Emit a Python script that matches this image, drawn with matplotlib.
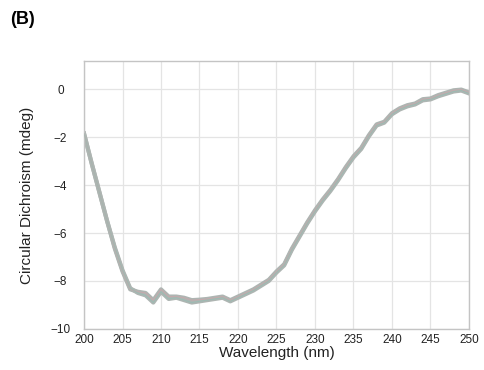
import matplotlib
matplotlib.use('Agg')
import matplotlib.pyplot as plt

plt.rcParams['font.family'] = ['Liberation Sans', 'DejaVu Sans']

# wavelength (nm) and CD signal (mdeg) for two overlaid replicates
wavelength = list(range(200, 251))
cd_rep1 = [-1.85, -3.1, -4.3, -5.5, -6.65, -7.6, -8.35, -8.45, -8.5, -8.8,
           -8.35, -8.65, -8.65, -8.7, -8.8, -8.78, -8.75, -8.7, -8.65, -8.8,
           -8.65, -8.5, -8.35, -8.15, -7.95, -7.6, -7.3, -6.65, -6.1, -5.55,
           -5.05, -4.6, -4.2, -3.75, -3.25, -2.8, -2.45, -1.92, -1.47, -1.36,
           -1.0, -0.8, -0.67, -0.6, -0.42, -0.39, -0.25, -0.15, -0.05, -0.02,
           -0.14]
cd_rep2 = [-1.85, -3.1, -4.3, -5.5, -6.6, -7.55, -8.3, -8.5, -8.6, -8.9,
           -8.45, -8.75, -8.7, -8.8, -8.9, -8.85, -8.8, -8.75, -8.7, -8.85,
           -8.7, -8.55, -8.4, -8.2, -8.0, -7.65, -7.35, -6.7, -6.15, -5.6,
           -5.1, -4.65, -4.25, -3.8, -3.3, -2.85, -2.5, -1.97, -1.52, -1.4,
           -1.05, -0.85, -0.72, -0.64, -0.47, -0.43, -0.3, -0.2, -0.1, -0.06,
           -0.18]

xticks = [200, 205, 210, 215, 220, 225, 230, 235, 240, 245, 250]
yticks = [0, -2, -4, -6, -8, -10]

fig = plt.figure(figsize=(4.85, 3.7), dpi=100)
ax = fig.add_axes([0.1732, 0.111, 0.7938, 0.724])

# grey band with the faint coloured replicate traces on top
ax.plot(wavelength, cd_rep1, color='#aeb5b2', lw=3.0, zorder=2)
ax.plot(wavelength, cd_rep2, color='#aeb5b2', lw=3.0, zorder=2)
ax.plot(wavelength, cd_rep1, color='#d4a2a8', lw=0.7, alpha=0.6, zorder=3)
ax.plot(wavelength, cd_rep2, color='#8fbfb2', lw=0.7, alpha=0.6, zorder=3)

ax.set_xlim(200, 250)
ax.set_ylim(-10, 1.17)
ax.set_xticks(xticks)
ax.set_yticks(yticks)
ax.grid(True, color='#e4e4e4', lw=0.9)
ax.set_axisbelow(True)
for s in ax.spines.values():
    s.set_color('#c4c4c4')
    s.set_linewidth(1.0)
ax.tick_params(length=0, labelsize=8.5, colors='#222222')
ax.tick_params(axis='y', pad=17)
ax.tick_params(axis='x', pad=4)
for lbl in ax.get_yticklabels():
    lbl.set_horizontalalignment('center')

ax.set_xlabel('Wavelength (nm)', fontsize=11, color='#222222')
ax.set_ylabel('Circular Dichroism (mdeg)', fontsize=11, color='#222222')
ax.xaxis.set_label_coords(0.5, -0.063)
ax.yaxis.set_label_coords(-0.13, 0.5)

fig.text(0.02, 0.946, '(B)', fontsize=13, fontweight='bold', va='center')

fig.savefig('out.png', dpi=100)
